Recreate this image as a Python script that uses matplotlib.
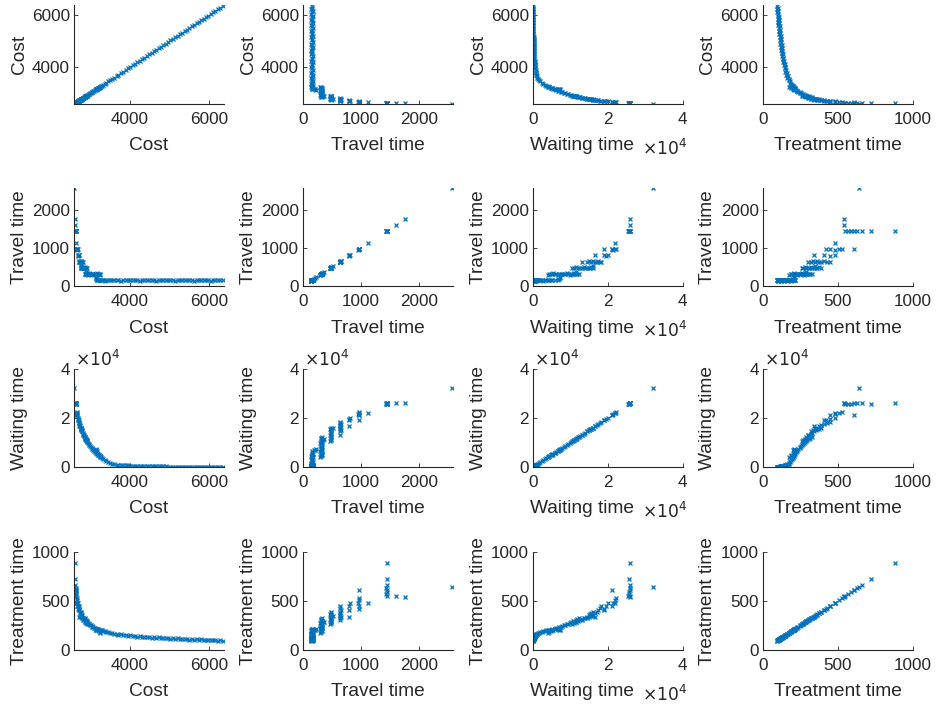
import matplotlib
matplotlib.use('Agg')
import matplotlib.pyplot as plt

plt.rcParams['font.family'] = ['Liberation Sans', 'DejaVu Sans']

# Pareto front solutions (one entry per solution)
cost = [
    # travel ~150
    6350, 6290, 6230, 6170, 6110, 6050, 5990, 5930, 5870, 5810,
    5750, 5690, 5630, 5570, 5510, 5450, 5390, 5330, 5270, 5210,
    5150, 5090, 5030, 4970, 4910, 4850, 4790, 4730, 4670, 4610,
    4550, 4490, 4430, 4370, 4310, 4250, 4190, 4130, 4070, 4010,
    3950, 3890, 3830, 3770, 3710, 3660, 3600, 3550, 3500, 3450,
    3400, 3360, 3320, 3290, 3260, 3230, 3210, 3190, 3170, 3160,
    # travel ~200
    3150, 3140, 3135,
    # travel ~320
    3250, 3230, 3210, 3190, 3170, 3150, 3125, 3100, 3075, 3050, 3030,
    3010, 2990, 2970, 2950, 2935, 2920, 2905, 2890, 2875, 2860, 2850,
    # travel ~360
    2900, 2880,
    # travel ~480
    2900, 2885, 2870, 2855, 2840, 2825, 2810, 2800, 2790, 2780, 2770, 2760, 2750,
    # travel ~520
    2760,
    # travel ~640
    2800, 2780, 2770, 2760, 2750, 2740, 2730, 2720, 2710, 2700,
    # travel ~800
    2720, 2700, 2690, 2680,
    # travel ~960
    2680, 2665, 2660, 2650, 2645, 2640,
    # travel ~1120
    2640,
    # travel ~1440
    2630, 2628, 2625, 2622, 2620, 2618, 2615, 2612,
    # travel 1600, 1760, 2570
    2615, 2612, 2590,
]
travel = [
    150, 160, 145, 165, 155, 140, 170, 150, 160, 145,
    155, 165, 140, 150, 170, 160, 145, 155, 150, 165,
    140, 160, 150, 170, 145, 155, 165, 150, 140, 160,
    155, 145, 170, 150, 160, 140, 165, 155, 150, 145,
    160, 170, 150, 140, 155, 165, 145, 160, 150, 170,
    155, 140, 160, 150, 165, 145, 155, 170, 150, 160,
    190, 210, 230,
    300, 315, 320, 305, 330, 310, 320, 300, 325, 315, 310,
    320, 305, 330, 315, 300, 320, 310, 325, 315, 305, 320,
    350, 370,
    470, 480, 490, 475, 485, 470, 490, 480, 475, 485, 470, 490, 480,
    520,
    640, 630, 650, 640, 645, 635, 640, 650, 630, 640,
    800, 800, 790, 810,
    960, 960, 955, 965, 960, 960,
    1120,
    1440, 1430, 1445, 1440, 1435, 1440, 1445, 1440,
    1600, 1760, 2570,
]
waiting = [
    0, 5, 10, 15, 20, 25, 30, 40, 45, 50,
    60, 70, 75, 85, 95, 100, 110, 120, 130, 140,
    150, 165, 180, 190, 205, 220, 235, 250, 270, 290,
    310, 330, 350, 375, 400, 430, 460, 490, 530, 570,
    620, 680, 750, 830, 920, 1000, 1200, 1400, 1650, 1950,
    2300, 2700, 3100, 3500, 3900, 4300, 4700, 5200, 5800, 6600,
    6900, 7100, 7300,
    4000, 4300, 4700, 5000, 5400, 5800, 6200, 6600, 7000, 7400, 7800,
    8200, 8600, 9000, 9400, 9800, 10200, 10600, 11000, 11400, 11800, 12200,
    11000, 11500,
    10500, 11000, 11500, 12000, 12500, 13000, 13500, 14000, 14500, 15000, 15300, 15600, 16000,
    16000,
    13000, 14500, 15000, 15500, 16000, 16500, 17000, 17500, 17800, 18200,
    16500, 19000, 19500, 20000,
    19000, 21000, 21500, 22000, 22300, 21000,
    22000,
    25500, 25600, 25700, 25800, 25900, 26000, 25600, 25800,
    26000, 26000, 32000,
]
treatment = [
    95, 102, 93, 100, 97, 104, 99, 106, 100, 108,
    102, 110, 104, 112, 106, 114, 108, 116, 110, 118,
    113, 120, 115, 123, 117, 125, 120, 128, 123, 131,
    126, 134, 129, 137, 133, 141, 137, 145, 141, 149,
    146, 154, 151, 160, 157, 166, 164, 173, 172, 181,
    181, 190, 192, 200, 203, 207, 205, 212, 210, 214,
    200, 205, 210,
    175, 185, 190, 200, 205, 212, 220, 225, 230, 238, 245,
    250, 255, 262, 268, 275, 282, 290, 298, 305, 315, 328,
    280, 285,
    262, 270, 280, 290, 300, 310, 320, 330, 340, 352, 362, 375, 390,
    350,
    300, 320, 335, 345, 360, 375, 390, 410, 430, 450,
    340, 410, 450, 480,
    420, 450, 480, 510, 530, 610,
    480,
    550, 570, 590, 610, 630, 660, 720, 880,
    545, 540, 640,
]

names = ['Cost', 'Travel time', 'Waiting time', 'Treatment time']
limits = [(2580, 6380), (0, 2580), (0, 40000), (0, 1000)]
ticks = [[4000, 6000], [0, 1000, 2000], [0, 20000, 40000], [0, 500, 1000]]
tick_labels = [['4000', '6000'], ['0', '1000', '2000'], ['0', '2', '4'], ['0', '500', '1000']]

data = [cost, travel, waiting, treatment]
dark = '#262626'
blue = '#0072BD'

fig = plt.figure(figsize=(9.36, 7.05), dpi=100)
lefts = [0.079, 0.3237, 0.5694, 0.815]
bottoms = [0.8525, 0.5943, 0.3376, 0.078]
w, h = 0.160, 0.1397

for i in range(4):          # row -> y variable
    for j in range(4):      # col -> x variable
        ax = fig.add_axes([lefts[j], bottoms[i], w, h])
        ax.plot(data[j], data[i], 'x', color=blue, ms=3.2, mew=0.9)
        ax.set_xlim(limits[j])
        ax.set_ylim(limits[i])
        ax.set_xticks(ticks[j])
        ax.set_xticklabels(tick_labels[j])
        ax.set_yticks(ticks[i])
        ax.set_yticklabels(tick_labels[i])
        for s in ['top', 'right']:
            ax.spines[s].set_visible(False)
        for s in ['left', 'bottom']:
            ax.spines[s].set_color(dark)
            ax.spines[s].set_linewidth(0.8)
        ax.tick_params(direction='in', length=3, width=0.6, colors=dark,
                       labelsize=12.3)
        ax.tick_params(axis='x', pad=6)
        ax.tick_params(axis='y', pad=3)
        ax.set_xlabel(names[j], fontsize=13.8, color=dark)
        ax.set_ylabel(names[i], fontsize=13.8, color=dark)
        ax.xaxis.set_label_coords(0.5, -0.34)
        ax.yaxis.set_label_coords(-0.31, 0.5)
        if j == 2:
            ax.xaxis.set_label_coords(0.327, -0.34)
            ax.text(0.727, -0.445, r'$\times10^{4}$', transform=ax.transAxes,
                    fontsize=12.3, color=dark, va='center', ha='left')
        if i == 2:
            ax.text(0.01, 1.0, r'$\times10^{4}$', transform=ax.transAxes,
                    fontsize=12.3, color=dark, va='bottom', ha='left')

fig.savefig('out.png', dpi=100)
